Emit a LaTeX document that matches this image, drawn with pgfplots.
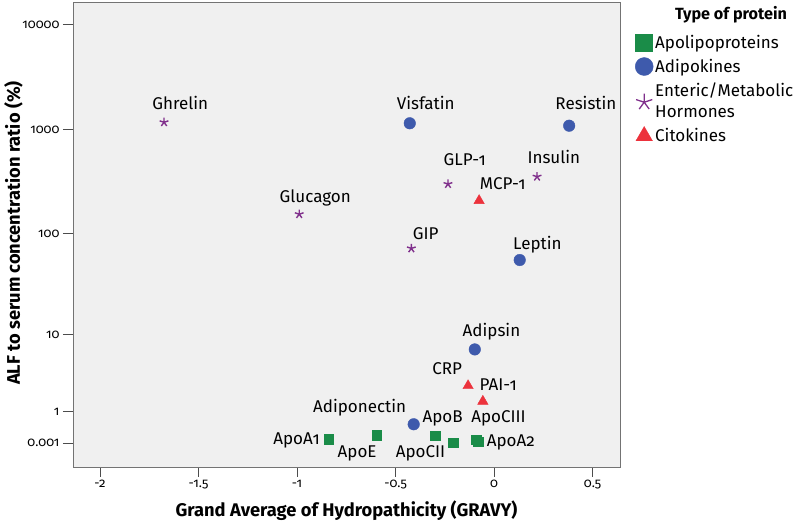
\documentclass[border=0pt]{standalone}
\usepackage{fontspec}
\setmainfont{Fira Sans}[Numbers=OldStyle]
\usepackage{pgfplots}
\pgfplotsset{compat=1.18}
\usepackage{pgfplotstable}

\definecolor{cgreen}{RGB}{26,140,72}
\definecolor{cblue}{RGB}{62,90,172}
\definecolor{cpurple}{RGB}{128,48,140}
\definecolor{cred}{RGB}{236,50,60}
\definecolor{bgc}{RGB}{240,240,240}

\newcommand\labfont{\fontsize{17}{21}\selectfont}
\newcommand\tickfont{\fontsize{13}{15}\selectfont}
\newcommand\axfont{\bfseries\fontsize{18.3}{21}\selectfont}

\pgfplotsset{
  legA/.style={legend image code/.code={\draw[##1, mark size=9pt] plot coordinates {(9pt,0pt)};}},
  legS/.style={legend image code/.code={\draw[##1, mark size=8.5pt, line width=1.3pt] plot coordinates {(9pt,-1pt)};}},
  legT/.style={legend image code/.code={\draw[##1, mark size=9.5pt] plot coordinates {(9pt,0pt)};}},
  labstyle/.style={draw=none, mark=none, nodes near coords, point meta=explicit symbolic,
    forget plot,
    every node near coord/.append style={anchor=#1, font=\labfont,
      text height=11.7pt, text depth=0pt, inner sep=0pt, black}},
}

% x = GRAVY, v = ALF to serum ratio (%)
\pgfplotstableread{
x v name
-0.838 0.092 ApoA1
-0.594 0.190 ApoE
-0.296 0.175 ApoB
-0.206 0.007 ApoCII
-0.090 0.075 ApoCIII
-0.078 0.030 ApoA2
}\apo
\pgfplotstableread{
x v name
-0.428 1146 Visfatin
0.381 1086 Resistin
0.130 55.5 Leptin
-0.098 6.9 Adipsin
-0.408 0.52 Adiponectin
}\adipo
\pgfplotstableread{
x v name
-1.675 1172 Ghrelin
-0.989 154 Glucagon
-0.234 300 GLP-1
0.218 353 Insulin
-0.420 72 GIP
}\horm
\pgfplotstableread{
x v name
-0.076 208 MCP-1
-0.132 2.55 CRP
-0.057 1.52 PAI-1
}\cito
% label positions (x, log10(v+1))
\pgfplotstableread{
x t lab
-1.593 3.245 Ghrelin
-0.9075 2.358 Glucagon
-0.347 3.245 Visfatin
0.466 3.245 Resistin
-0.149 2.715 GLP-1
0.303 2.734 Insulin
0.0442 2.479 MCP-1
-0.347 2.008 GIP
0.2195 1.912 Leptin
-0.0132 1.074 Adipsin
-0.238 0.717 CRP
0.0213 0.564 PAI-1
-0.6824 0.350 Adiponectin
-1.0025 0.048 ApoA1
-0.695 -0.080 ApoE
-0.3735 -0.080 ApoCII
0.0849 0.022 ApoA2
}\labc
\pgfplotstableread{
x t lab
-0.3638 0.254 ApoB
}\labw
\pgfplotstableread{
x t lab
0.161 0.254 ApoCIII
}\labe

\begin{document}
\begin{tikzpicture}
\begin{axis}[name=ax, scale only axis, width=547pt, height=465pt,
  xmin=-2.137, xmax=0.639, ymin=-0.2266, ymax=4.219,
  axis background/.style={fill=bgc},
  axis line style={draw=black!55, line width=0.8pt},
  xtick={-2,-1.5,-1,-0.5,0,0.5},
  ytick={0.000434,0.30103,1.04139,2.00432,3.00043,4.00004},
  yticklabels={0.001,1,10,100,1000,10000},
  tick align=outside, tick pos=left, major tick length=10pt,
  tick style={draw=black!70, line width=0.8pt},
  ticklabel style={font=\tickfont},
  /pgf/number format/assume math mode=true,
  xlabel={Grand Average of Hydropathicity (GRAVY)},
  ylabel={ALF to serum concentration ratio (\%)},
  xlabel style={font=\axfont, at={(axis description cs:0.5,-0.1075)}, anchor=base},
  ylabel style={font=\axfont, at={(axis description cs:-0.0969,0.503)}, anchor=base},
  legend style={at={(axis description cs:1,1)}, anchor=north west, xshift=15pt, yshift=-31pt,
    draw=none, fill=none, font=\labfont, inner sep=0pt, row sep=5.2pt, column sep=2pt,
    cells={anchor=west}, nodes={align=left, inner xsep=0pt}},
  clip=false,
]
\addplot[only marks, mark=square*, mark size=5.4pt, color=cgreen, draw opacity=0,
  fill=cgreen, y filter/.expression={log10(y+1)}, legA]
  table[x=x,y=v]{\apo};
\addlegendentry{Apolipoproteins}
\addplot[only marks, mark=*, mark size=5.8pt, color=cblue, fill=cblue,
  y filter/.expression={log10(y+1)}, legA]
  table[x=x,y=v]{\adipo};
\addlegendentry{Adipokines}
\addplot[only marks, mark=star, mark size=4.6pt, color=cpurple, line width=1.4pt,
  y filter/.expression={log10(y+1)}, legS]
  table[x=x,y=v]{\horm};
\addlegendentry{Enteric/Metabolic\\Hormones}
\addplot[only marks, mark=triangle*, mark size=6pt, color=cred, fill=cred,
  y filter/.expression={log10(y+1)}, legT]
  table[x=x,y=v]{\cito};
\addlegendentry{Citokines}
\addplot[labstyle=center] table[x=x,y=t,meta=lab]{\labc};
\addplot[labstyle=west] table[x=x,y=t,meta=lab]{\labw};
\addplot[labstyle=east] table[x=x,y=t,meta=lab]{\labe};
\end{axis}
\node[font=\bfseries\fontsize{16.2}{19}\selectfont, anchor=center] at ([xshift=111pt,yshift=-13pt]ax.north east) {Type of protein};
\pgfresetboundingbox
\path[use as bounding box] ([xshift=-73pt,yshift=-56pt]ax.south west) rectangle ([xshift=180pt,yshift=2pt]ax.north east);
\end{tikzpicture}
\end{document}
